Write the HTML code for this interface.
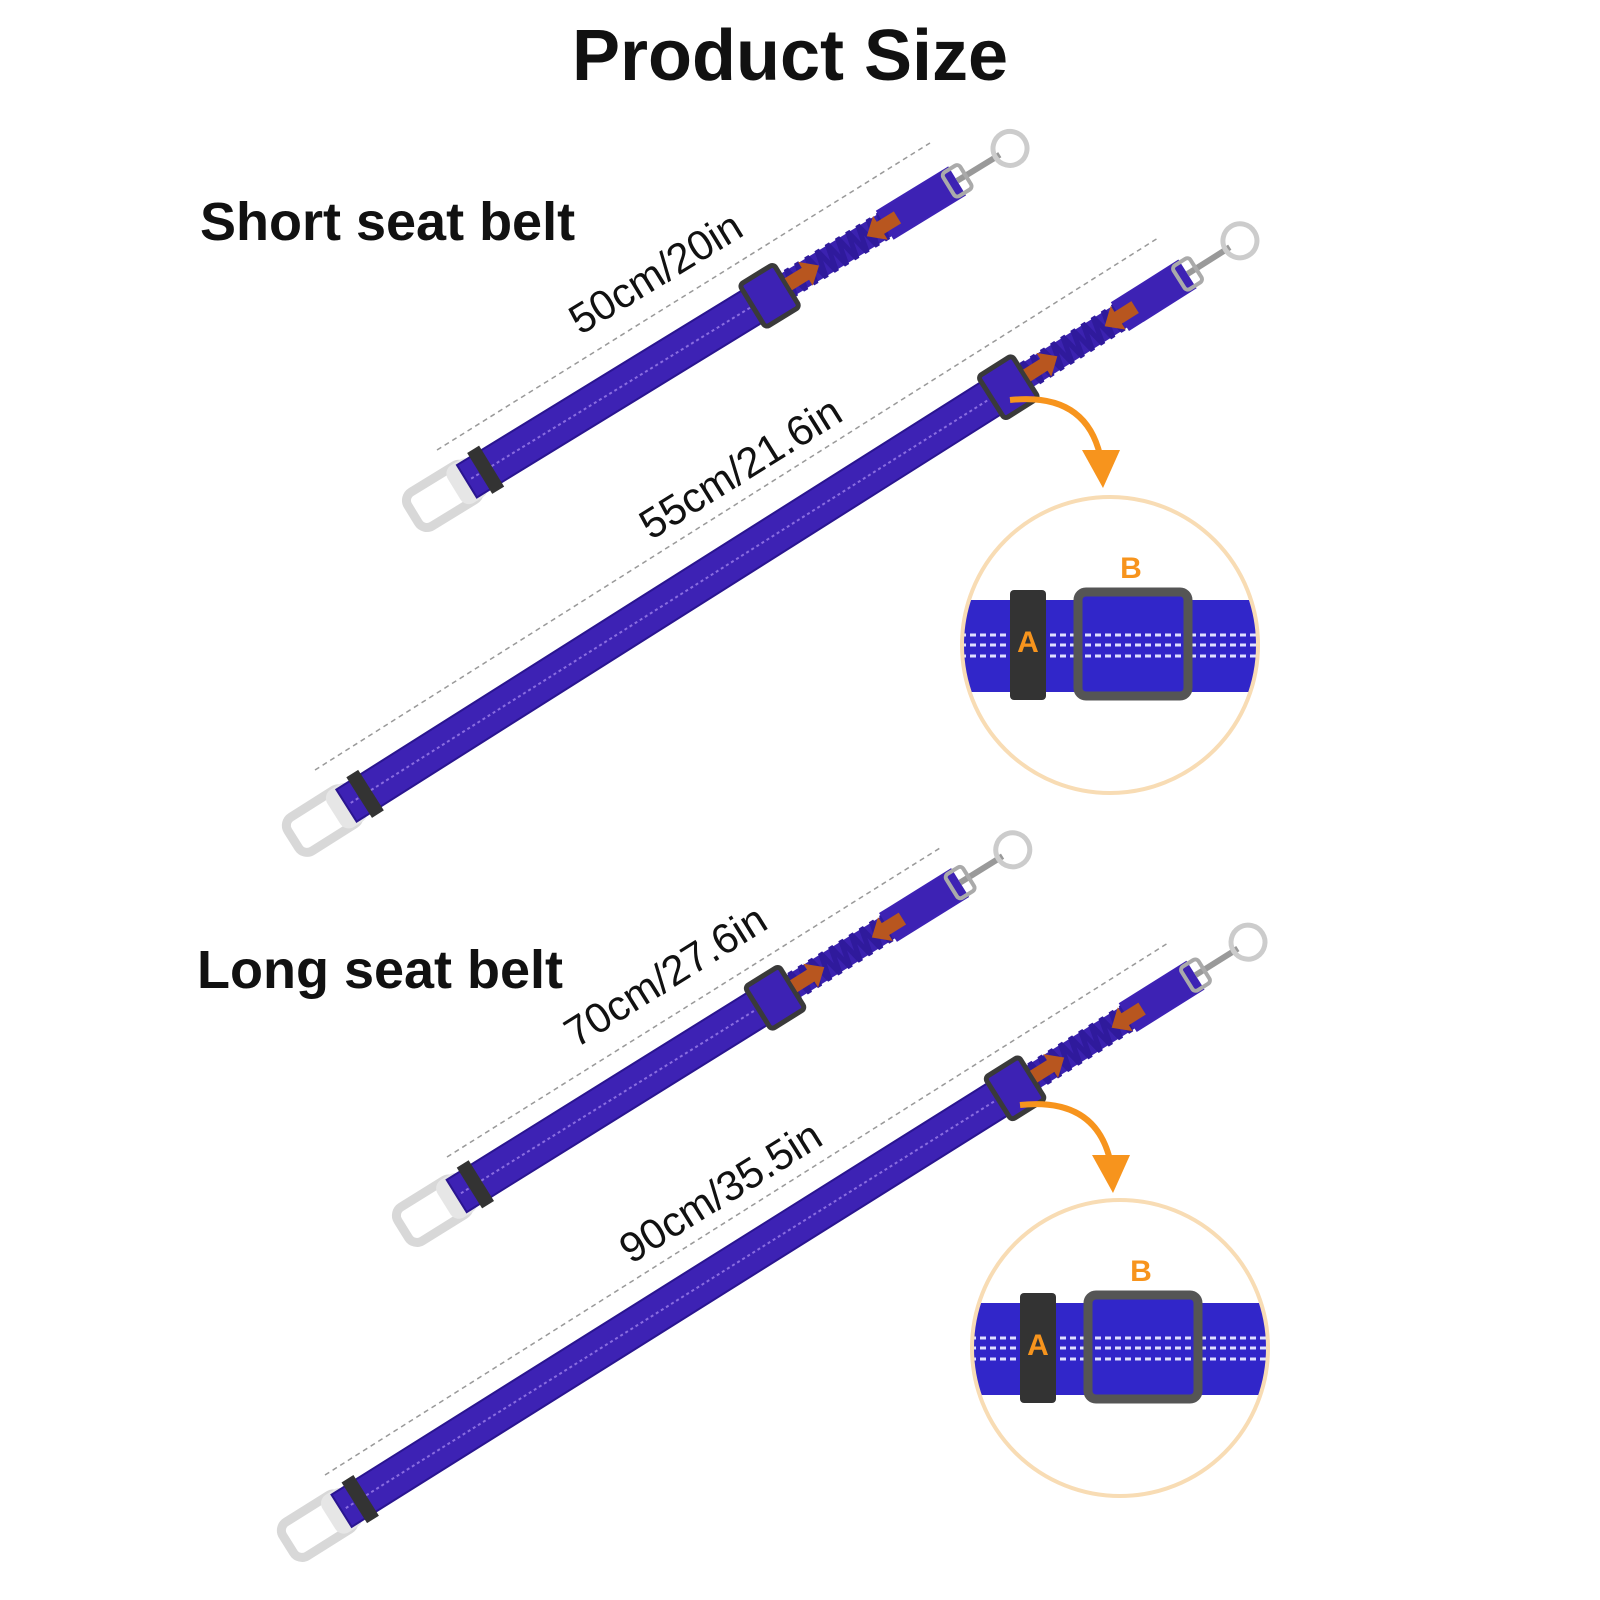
<!DOCTYPE html>
<html><head><meta charset="utf-8"><style>html,body{margin:0;padding:0;background:#fff}svg{display:block}</style></head>
<body>
<svg width="1600" height="1600" viewBox="0 0 1600 1600" xmlns="http://www.w3.org/2000/svg" font-family="Liberation Sans, sans-serif">
<defs>
<g id="buckle"><rect x="-8" y="-20" width="70" height="40" rx="10" fill="none" stroke="#d8d8d8" stroke-width="9"/><rect x="40" y="-22" width="30" height="44" rx="10" fill="#e6e6e6"/></g>
<g id="hook"><line x1="0" y1="0" x2="50" y2="0" stroke="#999" stroke-width="6"/><rect x="-10" y="-14" width="20" height="28" rx="4" fill="none" stroke="#aaa" stroke-width="4"/><circle cx="62" cy="0" r="17" fill="none" stroke="#ccc" stroke-width="5"/></g>
<g id="slider"><rect x="-20" y="-25" width="40" height="50" rx="4" fill="#3d22b4" stroke="#3a3a3a" stroke-width="5"/></g>
<g id="bungee"><rect x="0" y="-13" width="130" height="26" rx="6" fill="#3b22b0"/><path d="M0 0 l6 -14 l6 28 l6 -28 l6 28 l6 -28 l6 28 l6 -28 l6 28 l6 -28 l6 28 l6 -28 l6 28 l6 -28 l6 28 l6 -28 l6 28 l6 -28 l6 28 l6 -28 l6 28 l6 -28 l4 14" fill="none" stroke="#2f1a9c" stroke-width="5"/></g>
<g id="oarrow"><polygon points="0,-7 20,-7 20,-14 36,0 20,14 20,7 0,7" fill="#b8561f"/></g>
<clipPath id="c1"><circle cx="1110" cy="645" r="148"/></clipPath>
<clipPath id="c2"><circle cx="1120" cy="1348" r="148"/></clipPath>
</defs>

<text x="790" y="80" text-anchor="middle" font-size="72" font-weight="bold" fill="#111">Product Size</text>
<text x="200" y="240" font-size="54" font-weight="bold" fill="#111">Short seat belt</text>
<text x="197" y="988" font-size="54" font-weight="bold" fill="#111">Long seat belt</text>

<g stroke="#999" stroke-width="1.5" stroke-dasharray="5 4" fill="none">
<line x1="437" y1="450" x2="930" y2="143"/><line x1="315" y1="770" x2="1158" y2="238"/>
<line x1="447" y1="1157" x2="940" y2="848"/><line x1="325" y1="1475" x2="1168" y2="943"/>
</g>

<g transform="translate(420,510) rotate(-31.5)">
<use href="#buckle"/>
<rect x="55" y="-19" width="360" height="38" fill="#3d22b4" stroke="#2a1590" stroke-width="2"/>
<line x1="60" y1="0" x2="410" y2="0" stroke="#8a6ee0" stroke-width="2" stroke-dasharray="3 3"/>
<rect x="70" y="-24" width="14" height="48" fill="#333"/>
<use href="#bungee" x="420"/>
<rect x="545" y="-17" width="85" height="34" fill="#3d22b4"/>
<use href="#slider" x="410"/>
<use href="#oarrow" transform="translate(432 0)"/>
<use href="#oarrow" transform="translate(560 0) rotate(180)"/>
<use href="#hook" x="630"/>
</g>
<g transform="translate(300,835) rotate(-32.3)">
<use href="#buckle"/>
<rect x="55" y="-19" width="780" height="38" fill="#3d22b4" stroke="#2a1590" stroke-width="2"/>
<line x1="60" y1="0" x2="830" y2="0" stroke="#8a6ee0" stroke-width="2" stroke-dasharray="3 3"/>
<rect x="70" y="-24" width="14" height="48" fill="#333"/>
<use href="#bungee" x="845"/>
<rect x="970" y="-17" width="80" height="34" fill="#3d22b4"/>
<use href="#slider" x="838"/>
<use href="#oarrow" transform="translate(860 0)"/>
<use href="#oarrow" transform="translate(988 0) rotate(180)"/>
<use href="#hook" x="1050"/>
</g>
<g transform="translate(410,1225) rotate(-31.9)">
<use href="#buckle"/>
<rect x="55" y="-19" width="375" height="38" fill="#3d22b4" stroke="#2a1590" stroke-width="2"/>
<line x1="60" y1="0" x2="425" y2="0" stroke="#8a6ee0" stroke-width="2" stroke-dasharray="3 3"/>
<rect x="70" y="-24" width="14" height="48" fill="#333"/>
<use href="#bungee" x="438"/>
<rect x="563" y="-17" width="85" height="34" fill="#3d22b4"/>
<use href="#slider" x="430"/>
<use href="#oarrow" transform="translate(452 0)"/>
<use href="#oarrow" transform="translate(580 0) rotate(180)"/>
<use href="#hook" x="648"/>
</g>
<g transform="translate(295,1540) rotate(-32.1)">
<use href="#buckle"/>
<rect x="55" y="-19" width="795" height="38" fill="#3d22b4" stroke="#2a1590" stroke-width="2"/>
<line x1="60" y1="0" x2="845" y2="0" stroke="#8a6ee0" stroke-width="2" stroke-dasharray="3 3"/>
<rect x="70" y="-24" width="14" height="48" fill="#333"/>
<use href="#bungee" x="858"/>
<rect x="983" y="-17" width="80" height="34" fill="#3d22b4"/>
<use href="#slider" x="850"/>
<use href="#oarrow" transform="translate(872 0)"/>
<use href="#oarrow" transform="translate(1000 0) rotate(180)"/>
<use href="#hook" x="1063"/>
</g>

<g font-size="42" fill="#111" text-anchor="middle">
<text transform="translate(663,285) rotate(-31.5)">50cm/20in</text>
<text transform="translate(748,480) rotate(-32)">55cm/21.6in</text>
<text transform="translate(673,988) rotate(-32)">70cm/27.6in</text>
<text transform="translate(728,1204) rotate(-32)">90cm/35.5in</text>
</g>

<g fill="none" stroke="#f7941d" stroke-width="6">
<path d="M1010 400 Q1085 392 1100 455"/><path d="M1020 1105 Q1095 1097 1110 1160"/>
</g>
<polygon points="1082,450 1120,450 1103,488" fill="#f7941d"/>
<polygon points="1092,1155 1130,1155 1113,1193" fill="#f7941d"/>

<g clip-path="url(#c1)">
<rect x="950" y="600" width="320" height="92" fill="#3126c9"/>
<g stroke="#dfe0ff" stroke-width="3" stroke-dasharray="6 4"><line x1="950" y1="635" x2="1270" y2="635"/><line x1="950" y1="645" x2="1270" y2="645"/><line x1="950" y1="656" x2="1270" y2="656"/></g>
<rect x="1010" y="590" width="36" height="110" rx="4" fill="#333"/>
<rect x="1078" y="592" width="110" height="104" rx="8" fill="#3126c9" stroke="#555" stroke-width="9"/>
<g stroke="#dfe0ff" stroke-width="3" stroke-dasharray="6 4"><line x1="1085" y1="635" x2="1182" y2="635"/><line x1="1085" y1="645" x2="1182" y2="645"/><line x1="1085" y1="656" x2="1182" y2="656"/></g>
</g>
<circle cx="1110" cy="645" r="148" fill="none" stroke="#f8dcb4" stroke-width="4"/>
<text x="1028" y="652" font-size="30" font-weight="bold" fill="#f7941d" text-anchor="middle">A</text>
<text x="1131" y="578" font-size="30" font-weight="bold" fill="#f7941d" text-anchor="middle">B</text>

<g clip-path="url(#c2)">
<rect x="960" y="1303" width="320" height="92" fill="#3126c9"/>
<g stroke="#dfe0ff" stroke-width="3" stroke-dasharray="6 4"><line x1="960" y1="1338" x2="1280" y2="1338"/><line x1="960" y1="1348" x2="1280" y2="1348"/><line x1="960" y1="1359" x2="1280" y2="1359"/></g>
<rect x="1020" y="1293" width="36" height="110" rx="4" fill="#333"/>
<rect x="1088" y="1295" width="110" height="104" rx="8" fill="#3126c9" stroke="#555" stroke-width="9"/>
<g stroke="#dfe0ff" stroke-width="3" stroke-dasharray="6 4"><line x1="1095" y1="1338" x2="1192" y2="1338"/><line x1="1095" y1="1348" x2="1192" y2="1348"/><line x1="1095" y1="1359" x2="1192" y2="1359"/></g>
</g>
<circle cx="1120" cy="1348" r="148" fill="none" stroke="#f8dcb4" stroke-width="4"/>
<text x="1038" y="1355" font-size="30" font-weight="bold" fill="#f7941d" text-anchor="middle">A</text>
<text x="1141" y="1281" font-size="30" font-weight="bold" fill="#f7941d" text-anchor="middle">B</text>
</svg>
</body></html>
